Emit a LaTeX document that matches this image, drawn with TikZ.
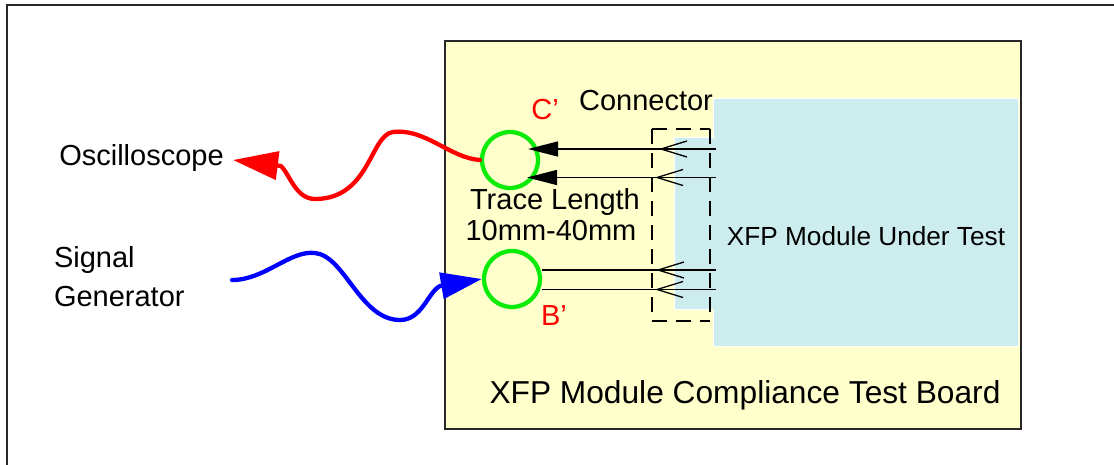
\documentclass[tikz,border=0pt]{standalone}
\usepackage{fontspec}
\setmainfont{Liberation Sans}
\usetikzlibrary{arrows.meta}
\definecolor{boardyellow}{RGB}{255,255,204}
\definecolor{modblue}{RGB}{204,236,238}
\definecolor{probegreen}{RGB}{10,235,10}
\definecolor{framegray}{RGB}{40,40,40}
\begin{document}
\begin{tikzpicture}[x=1pt,y=-1pt,
  lbl/.style={inner sep=0pt, outer sep=0pt, anchor=base, font=\fontsize{29}{34}\selectfont},
  probe/.style={circle, draw=probegreen, line width=4.3pt, minimum size=56pt, inner sep=0pt},
  sig/.style={black, line width=1.3pt},
  cable/.style={line width=4.3pt, line cap=round, line join=round},
  condash/.style={draw=black, line width=1.6pt, dash pattern=on 15pt off 9pt}
]
\useasboundingbox (0,0) rectangle (1114,464);
% outer frame (only top and left visible)
\draw[framegray, line width=2pt] (7,470) -- (7,5) -- (1120,5);
% test board
\node[draw=framegray, fill=boardyellow, line width=1.5pt, minimum width=576pt, minimum height=388pt,
      inner sep=0pt, anchor=north west] (board) at (444,40) {};
% module under test
\path[fill=modblue, draw=white, line width=1pt]
  (713,98) -| (1018,346) -| (713,309) -| (674,137) -| (713,98) -- cycle;
\node[lbl, font=\fontsize{26.2}{31}\selectfont] (module) at (866,245) {XFP Module Under Test};
% connector
\node[inner sep=0pt, outer sep=0pt, minimum width=58pt, minimum height=192pt, anchor=north west] (conn) at (652,129) {};
\draw[condash] (conn.north west) -- (conn.south west);
\draw[condash] (conn.north east) -- (conn.south east);
\draw[condash] (conn.north west) -- (conn.north east);
\draw[condash] (conn.south west) -- (conn.south east);
\node[lbl] (connlbl) at (646,110) {Connector};
% probes
\node[probe] (C) at (510,160) {};
\node[probe] (B) at (512,279) {};
\node[lbl, red] (Clbl) at (545,119.3) {C’};
\node[lbl, red] (Blbl) at (554,325) {B’};
% signal lines
\coordinate (m1) at (716,149);
\coordinate (m2) at (716,177.5);
\coordinate (m3) at (716,270);
\coordinate (m4) at (716,289.5);
\coordinate (t1) at (528,149);
\coordinate (t2) at (527,177.5);
\draw[sig, -{Triangle[length=30pt,width=15pt]}] (m1) -- (t1);
\draw[sig, -{Triangle[length=30pt,width=15pt]}] (m2) -- (t2);
\draw[sig] (m3) -- (m3 -| B.east);
\draw[sig] (m4) -- (m4 -| B.east);
\foreach \yy/\tx in {149/661,177.5/657,270/658,289.5/657}
  \draw[sig] (\tx+26,\yy-8) -- (\tx,\yy) -- (\tx+26,\yy+8);
% trace length label
\node[lbl] (trace1) at (555,209.3) {Trace Length};
\node[lbl] (trace2) at (551,240.7) {10mm-40mm};
% instruments
\node[lbl] (osc) at (141.5,165) {Oscilloscope};
\node[lbl, anchor=base west] (sig1) at (54,267.3) {Signal};
\node[lbl, anchor=base west] (sig2) at (54,306.7) {Generator};
\coordinate (otip) at (233,160);
\coordinate (gtail) at (232,280);
\draw[cable, red, -{Triangle[length=45pt,width=28pt]}]
  (C.west) .. controls (450,158) and (425,128) .. (393,132)
  .. controls (370,135) and (370,199) .. (315,199)
  .. controls (296,199) and (290,175) .. (281,166) -- (otip);
\draw[cable, blue, -{Triangle[length=41pt,width=26pt]}]
  (gtail) .. controls (265,280) and (290,250) .. (315,253)
  .. controls (345,256) and (360,320) .. (400,320)
  .. controls (422,320) and (428,292) .. (440,286) -- (B.west);
% board label
\node[lbl, font=\fontsize{31.7}{37}\selectfont] (boardlbl) at (745,403.3) {XFP Module Compliance Test Board};
\end{tikzpicture}
\end{document}
